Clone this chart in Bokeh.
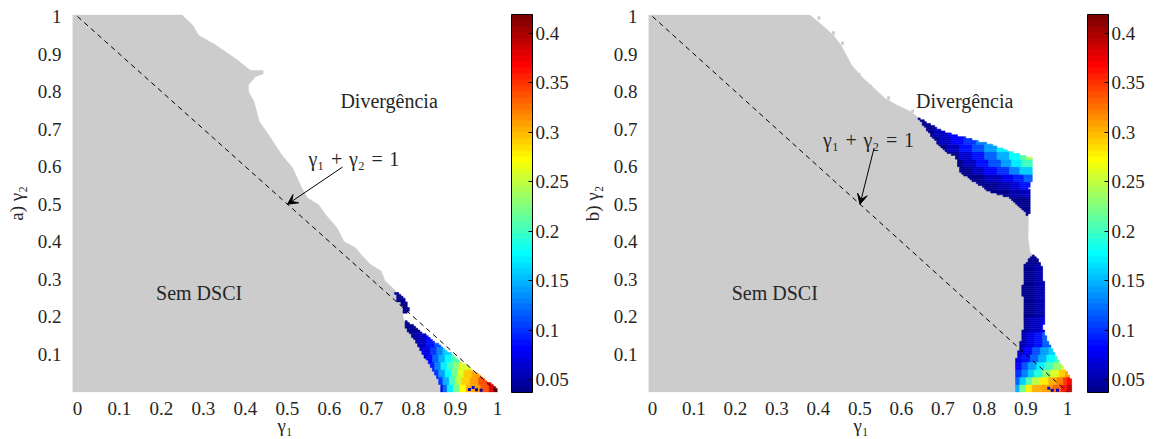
import numpy as np
from bokeh.plotting import figure
from bokeh.models import (LinearColorMapper, ColorBar, FixedTicker, Arrow, VeeHead,
                          Range1d, ColumnDataSource)
from bokeh.layouts import row
from bokeh.transform import transform
from bokeh.core.properties import value
from bokeh.embed import file_html
from bokeh.resources import INLINE

# ---------------- data ----------------
x_ticks = [0, 0.1, 0.2, 0.3, 0.4, 0.5, 0.6, 0.7, 0.8, 0.9, 1.0]
x_tick_labels = ["0", "0.1", "0.2", "0.3", "0.4", "0.5", "0.6", "0.7", "0.8", "0.9", "1"]
y_ticks = [0.1, 0.2, 0.3, 0.4, 0.5, 0.6, 0.7, 0.8, 0.9, 1.0]
y_tick_labels = ["0.1", "0.2", "0.3", "0.4", "0.5", "0.6", "0.7", "0.8", "0.9", "1"]
cb_ticks = [0.05, 0.1, 0.15, 0.2, 0.25, 0.3, 0.35, 0.4]
cb_tick_labels = ["0.05", "0.1", "0.15", "0.2", "0.25", "0.3", "0.35", "0.4"]
c_low, c_high = 0.037, 0.419

diag_x = [0.0, 1.0]
diag_y = [1.0, 0.0]

# ---- panel a ----
a_gray_x = [-0.012, -0.012, 0.249, 0.275, 0.288, 0.328, 0.38, 0.405, 0.412, 0.442, 0.442, 0.424,
            0.407, 0.407, 0.42, 0.433, 0.455, 0.486, 0.512, 0.534, 0.547, 0.574, 0.591, 0.618,
            0.635, 0.662, 0.675, 0.697, 0.723, 0.732, 0.758, 0.757, 0.76, 0.772, 0.774, 0.777,
            0.785, 0.801, 0.817, 0.837, 0.856, 0.868]
a_gray_y = [0.0, 1.004, 1.004, 0.976, 0.95, 0.925, 0.885, 0.862, 0.856, 0.856, 0.847, 0.84,
            0.818, 0.8, 0.774, 0.72, 0.685, 0.632, 0.597, 0.543, 0.517, 0.499, 0.472, 0.437,
            0.40, 0.384, 0.366, 0.34, 0.322, 0.296, 0.269, 0.266, 0.242, 0.235, 0.212, 0.191,
            0.164, 0.142, 0.111, 0.075, 0.04, 0.0]
a_tri_x = [0.777, 0.788, 0.999, 1.0, 0.868, 0.856, 0.837, 0.817, 0.801, 0.785]
a_tri_y = [0.191, 0.186, 0.009, 0.0, 0.0, 0.04, 0.075, 0.111, 0.142, 0.164]
a_blob_x = [0.757, 0.769, 0.781, 0.785, 0.789, 0.786, 0.774, 0.772, 0.76]
a_blob_y = [0.266, 0.259, 0.244, 0.231, 0.222, 0.212, 0.212, 0.235, 0.242]
a_band_y0 = [0.0, 0.02, 0.04, 0.06, 0.08, 0.10, 0.12, 0.14, 0.16]
a_band_y1 = [0.02, 0.04, 0.06, 0.08, 0.10, 0.12, 0.14, 0.16, 1.0]
a_band_stops = [
    [0.86, 0.87, 0.88, 0.895, 0.91, 0.925, 0.94, 0.96, 0.98, 0.99],
    [0.84, 0.855, 0.87, 0.885, 0.90, 0.915, 0.935, 0.955, 0.975],
    [0.83, 0.845, 0.86, 0.875, 0.89, 0.905, 0.92, 0.94],
    [0.82, 0.835, 0.85, 0.865, 0.88, 0.895, 0.91],
    [0.81, 0.83, 0.845, 0.86, 0.875, 0.89],
    [0.80, 0.82, 0.84, 0.855, 0.87],
    [0.79, 0.81, 0.83, 0.85],
    [0.79, 0.81, 0.83],
    [0.70],
]
a_band_vals = [
    [0.07, 0.12, 0.17, 0.22, 0.27, 0.30, 0.31, 0.34, 0.38, 0.42],
    [0.06, 0.10, 0.15, 0.20, 0.25, 0.29, 0.31, 0.34, 0.37],
    [0.06, 0.10, 0.14, 0.18, 0.22, 0.26, 0.29, 0.31],
    [0.05, 0.09, 0.13, 0.17, 0.20, 0.23, 0.26],
    [0.05, 0.08, 0.12, 0.15, 0.18, 0.21],
    [0.05, 0.07, 0.10, 0.13, 0.16],
    [0.045, 0.06, 0.09, 0.11],
    [0.045, 0.06, 0.08],
    [0.04],
]
a_spot_x = [0.933, 0.942, 0.950, 0.961]
a_spot_y = [0.007, 0.012, 0.006, 0.005]
a_spot_v = [0.06, 0.07, 0.06, 0.05]
a_arrow = [0.631, 0.599, 0.5, 0.5]
a_text_x = [0.626, 0.187, 0.55]
a_text_y = [0.775, 0.264, 0.62]
a_texts = ["Divergência", "Sem DSCI", "γ₁\u2004+\u2004γ₂\u2004=\u20041"]

# ---- panel b ----
b_gray_x = [-0.0096, -0.0096, 0.379, 0.41, 0.436, 0.454, 0.48, 0.507, 0.534, 0.56, 0.587,
            0.622, 0.638, 0.653, 0.677, 0.701, 0.73, 0.742, 0.774, 0.814, 0.863, 0.887, 0.906,
            0.905, 0.909, 0.914, 0.894, 0.892, 0.894, 0.892, 0.875, 0.875]
b_gray_y = [0.0, 1.004, 1.004, 0.976, 0.95, 0.924, 0.87, 0.836, 0.809, 0.782, 0.765,
            0.747, 0.733, 0.71, 0.676, 0.644, 0.626, 0.586, 0.56, 0.533, 0.516, 0.493, 0.466,
            0.41, 0.375, 0.365, 0.332, 0.27, 0.2, 0.156, 0.076, 0.0]
b_up_x = [0.638, 0.658, 0.701, 0.758, 0.806, 0.863, 0.915, 0.917, 0.907, 0.911, 0.906,
          0.887, 0.863, 0.814, 0.774, 0.742, 0.73, 0.701, 0.677, 0.653]
b_up_y = [0.733, 0.72, 0.693, 0.676, 0.662, 0.64, 0.622, 0.573, 0.546, 0.489, 0.466,
          0.493, 0.516, 0.533, 0.56, 0.586, 0.626, 0.644, 0.676, 0.71]
b_low_x = [0.875, 0.875, 0.892, 0.894, 0.892, 0.894, 0.905, 0.916, 0.925, 0.94, 0.942,
           0.947, 0.947, 0.94, 0.952, 0.978, 1.0, 1.012, 1.012]
b_low_y = [0.0, 0.076, 0.156, 0.2, 0.27, 0.332, 0.35, 0.364, 0.358, 0.33, 0.3,
           0.25, 0.199, 0.172, 0.137, 0.084, 0.049, 0.025, 0.0]
b_band_y0 = [0.0, 0.02, 0.04, 0.06, 0.08, 0.10, 0.12, 0.16, 0.20, 0.34,
             0.44, 0.52, 0.54, 0.56, 0.58, 0.60, 0.62, 0.64, 0.66, 0.68, 0.70]
b_band_y1 = [0.02, 0.04, 0.06, 0.08, 0.10, 0.12, 0.16, 0.20, 0.34, 0.44,
             0.52, 0.54, 0.56, 0.58, 0.60, 0.62, 0.64, 0.66, 0.68, 0.70, 1.0]
b_band_stops = [
    [0.87, 0.885, 0.90, 0.915, 0.94, 0.965, 0.985, 1.0, 1.008],
    [0.87, 0.885, 0.90, 0.915, 0.935, 0.955, 0.975, 0.99, 1.0],
    [0.87, 0.89, 0.905, 0.92, 0.94, 0.96, 0.98, 0.995],
    [0.87, 0.89, 0.905, 0.925, 0.945, 0.965, 0.985],
    [0.87, 0.89, 0.91, 0.93, 0.95, 0.97],
    [0.87, 0.895, 0.915, 0.935, 0.955],
    [0.87, 0.90, 0.92, 0.94],
    [0.88, 0.91, 0.935],
    [0.88, 0.92],
    [0.88],
    [0.85],
    [0.81, 0.86, 0.89],
    [0.78, 0.83, 0.86, 0.885],
    [0.76, 0.80, 0.84, 0.87, 0.895],
    [0.74, 0.77, 0.80, 0.83, 0.86, 0.885],
    [0.73, 0.75, 0.78, 0.81, 0.84, 0.865, 0.89],
    [0.72, 0.74, 0.77, 0.80, 0.83, 0.86, 0.885, 0.90],
    [0.69, 0.71, 0.74, 0.77, 0.80, 0.83, 0.86],
    [0.67, 0.69, 0.72, 0.75, 0.78],
    [0.65, 0.68, 0.71, 0.74],
    [0.63, 0.68],
]
b_band_vals = [
    [0.15, 0.22, 0.28, 0.30, 0.31, 0.33, 0.36, 0.39, 0.41],
    [0.12, 0.16, 0.21, 0.25, 0.28, 0.30, 0.32, 0.35, 0.37],
    [0.10, 0.13, 0.16, 0.19, 0.23, 0.26, 0.29, 0.31],
    [0.08, 0.11, 0.14, 0.17, 0.20, 0.23, 0.26],
    [0.07, 0.09, 0.12, 0.15, 0.18, 0.20],
    [0.06, 0.08, 0.11, 0.14, 0.16],
    [0.05, 0.07, 0.09, 0.12],
    [0.045, 0.06, 0.07],
    [0.04, 0.05],
    [0.04],
    [0.04],
    [0.04, 0.05, 0.06],
    [0.04, 0.05, 0.065, 0.085],
    [0.04, 0.055, 0.075, 0.095, 0.12],
    [0.04, 0.06, 0.08, 0.10, 0.13, 0.16],
    [0.04, 0.06, 0.085, 0.11, 0.14, 0.17, 0.20],
    [0.04, 0.065, 0.09, 0.12, 0.15, 0.18, 0.21, 0.24],
    [0.04, 0.06, 0.085, 0.11, 0.14, 0.17, 0.19],
    [0.04, 0.06, 0.08, 0.10, 0.13],
    [0.04, 0.06, 0.08, 0.10],
    [0.04, 0.055],
]
b_spot_x = [0.955, 0.963, 0.976]
b_spot_y = [0.010, 0.005, 0.005]
b_spot_v = [0.07, 0.05, 0.06]
b_dot_x = [0.401, 0.436, 0.458, 0.498, 0.525, 0.569, 0.627]
b_dot_y = [0.996, 0.956, 0.929, 0.845, 0.814, 0.783, 0.748]
b_arrow = [0.534, 0.65, 0.5, 0.5]
b_text_x = [0.635, 0.191, 0.411]
b_text_y = [0.775, 0.264, 0.672]
b_texts = ["Divergência", "Sem DSCI", "γ₁\u2004+\u2004γ₂\u2004=\u20041"]

# ---------------- helpers ----------------
def jet(m=64):
    n = int(np.ceil(m / 4))
    u = np.concatenate([np.arange(1, n + 1) / n, np.ones(n - 1), np.arange(n, 0, -1) / n])
    g = int(np.ceil(n / 2)) - (1 if m % 4 == 1 else 0) + np.arange(1, len(u) + 1)
    r = g + n
    b = g - n
    J = np.zeros((m, 3))
    for arr, ch in ((r, 0), (g, 1), (b, 2)):
        for idx, uu in zip(arr, u):
            if 1 <= idx <= m:
                J[idx - 1, ch] = uu
    return ["#%02x%02x%02x" % tuple(int(round(c * 255)) for c in rgb) for rgb in J]


def pip(xs, y, px, py):
    inside = np.zeros(len(xs), dtype=bool)
    n = len(px)
    j = n - 1
    for i in range(n):
        xi, yi, xj, yj = px[i], py[i], px[j], py[j]
        if (yi > y) != (yj > y):
            xint = xi + (y - yi) * (xj - xi) / (yj - yi)
            inside ^= xs < xint
        j = i
    return inside


def build_cells(polys, by0, by1, bstops, bvals, step=0.005):
    L, R, B, T, V = [], [], [], [], []
    for px, py in polys:
        px = np.asarray(px, float)
        py = np.asarray(py, float)
        x0 = np.floor(px.min() / step) * step
        y0 = np.floor(py.min() / step) * step
        xc = np.arange(x0 + step / 2, px.max(), step)
        for yc in np.arange(y0 + step / 2, py.max(), step):
            ins = pip(xc, yc, px, py)
            bi = None
            for k in range(len(by0)):
                if by0[k] <= yc < by1[k]:
                    bi = k
                    break
            if bi is None:
                continue
            stops = np.asarray(bstops[bi])
            vals = np.asarray(bvals[bi])
            idx = np.clip(np.searchsorted(stops, xc, side="right") - 1, 0, len(vals) - 1)
            v = vals[idx]
            k = 0
            while k < len(xc):
                if not ins[k]:
                    k += 1
                    continue
                m = k
                while m + 1 < len(xc) and ins[m + 1] and v[m + 1] == v[k]:
                    m += 1
                L.append(xc[k] - step / 2)
                R.append(xc[m] + step / 2)
                B.append(yc - step / 2)
                T.append(yc + step / 2)
                V.append(float(v[k]))
                k = m + 1
    return dict(left=L, right=R, bottom=B, top=T, v=V)


FONT = "Liberation Serif"
TXT = "#262626"
GRAY = "#cccccc"
palette = jet(64)
FRAME_W = 425
FRAME_H = 378


def make_panel(label, x_rng, width, gray_x, gray_y, polys,
               by0, by1, bstops, bvals, spot_x, spot_y, spot_v, arrow, tx, ty, texts,
               dots_x=None, dots_y=None):
    p = figure(width=width, height=439, output_backend="svg", toolbar_location=None,
               x_range=Range1d(x_rng[0], x_rng[1]), y_range=Range1d(-0.0013, 1.0053),
               min_border_left=72, min_border_right=width - 72 - FRAME_W,
               min_border_top=14, min_border_bottom=439 - 14 - FRAME_H)
    p.outline_line_color = None
    p.grid.visible = False
    p.background_fill_color = "white"

    mapper = LinearColorMapper(palette=palette, low=c_low, high=c_high)

    p.patch(gray_x, gray_y, fill_color=GRAY, line_color=GRAY, line_width=0.5)
    if dots_x is not None:
        p.rect(x=dots_x, y=dots_y, width=0.007, height=0.009, fill_color=GRAY, line_color=None)

    cells = build_cells(polys, by0, by1, bstops, bvals)
    src = ColumnDataSource(cells)
    p.quad(left="left", right="right", bottom="bottom", top="top", source=src,
           fill_color=transform("v", mapper), line_color=transform("v", mapper),
           line_width=0.6)
    spots = ColumnDataSource(dict(x=spot_x, y=spot_y, v=spot_v))
    p.rect(x="x", y="y", width=0.007, height=0.008, source=spots,
           fill_color=transform("v", mapper), line_color=None)

    p.line(diag_x, diag_y, line_color="black", line_width=1, line_dash="5 4")

    p.add_layout(Arrow(end=VeeHead(size=10, fill_color="black", line_color="black", line_width=1),
                       x_start=arrow[0], y_start=arrow[1], x_end=arrow[2], y_end=arrow[3],
                       line_color="black", line_width=1))

    p.text(x=tx, y=ty, text=texts, text_font=value(FONT), text_font_size="20px",
           text_color=TXT, text_baseline="middle", text_align="left")

    for ax in (p.xaxis[0], p.yaxis[0]):
        ax.axis_line_color = None
        ax.major_tick_line_color = None
        ax.minor_tick_line_color = None
        ax.major_label_text_font = FONT
        ax.major_label_text_font_size = "19px"
        ax.major_label_text_color = TXT
        ax.axis_label_text_font = FONT
        ax.axis_label_text_font_size = "19px"
        ax.axis_label_text_font_style = "normal"
        ax.axis_label_text_color = TXT
    p.xaxis.ticker = FixedTicker(ticks=x_ticks)
    p.xaxis.major_label_overrides = dict(zip(x_ticks, x_tick_labels))
    p.yaxis.ticker = FixedTicker(ticks=y_ticks)
    p.yaxis.major_label_overrides = dict(zip(y_ticks, y_tick_labels))
    p.xaxis.major_label_standoff = 3
    p.yaxis.major_label_standoff = 5
    p.yaxis.axis_label = label
    p.yaxis.axis_label_standoff = 8
    p.xaxis.axis_label = "γ₁"
    p.xaxis.axis_label_standoff = -3

    cb = ColorBar(color_mapper=mapper, ticker=FixedTicker(ticks=cb_ticks),
                  major_label_overrides=dict(zip(cb_ticks, cb_tick_labels)),
                  location=(FRAME_W + 14, 0), width=21, height=FRAME_H,
                  padding=0, margin=0, label_standoff=3,
                  bar_line_color="black", bar_line_width=1,
                  major_tick_line_color="black", major_tick_in=4, major_tick_out=0,
                  minor_tick_line_color=None,
                  major_label_text_font=FONT, major_label_text_font_size="19px",
                  major_label_text_color=TXT,
                  border_line_color=None, background_fill_color=None)
    p.add_layout(cb, "center")
    return p


pa = make_panel("a) γ₂", (-0.0119, 1.0), 576, a_gray_x, a_gray_y,
                [(a_tri_x, a_tri_y), (a_blob_x, a_blob_y)],
                a_band_y0, a_band_y1, a_band_stops, a_band_vals,
                a_spot_x, a_spot_y, a_spot_v, a_arrow, a_text_x, a_text_y, a_texts)
pb = make_panel("b) γ₂", (-0.0096, 1.0145), 578, b_gray_x, b_gray_y,
                [(b_up_x, b_up_y), (b_low_x, b_low_y)],
                b_band_y0, b_band_y1, b_band_stops, b_band_vals,
                b_spot_x, b_spot_y, b_spot_v, b_arrow, b_text_x, b_text_y, b_texts,
                b_dot_x, b_dot_y)

layout = row(pa, pb)
open("out.html", "w").write(file_html(layout, INLINE))
